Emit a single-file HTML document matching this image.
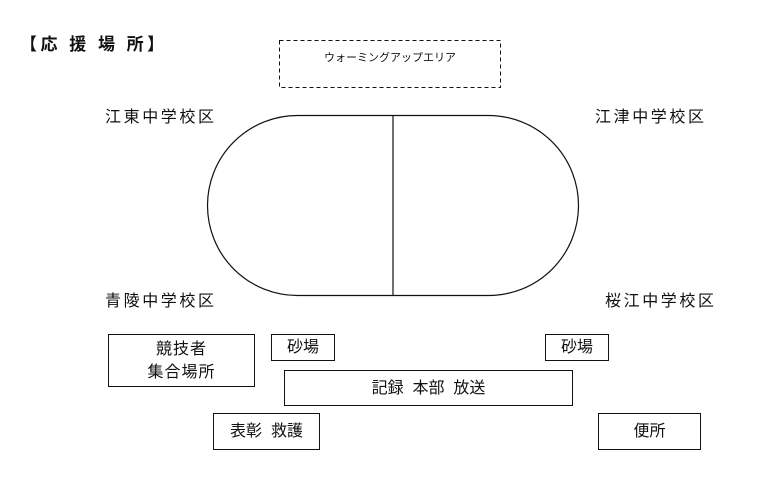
<!DOCTYPE html>
<html><head><meta charset="utf-8"><style>
body{margin:0;width:777px;height:482px;background:#fff;position:relative;overflow:hidden;font-family:"Liberation Sans","Noto Sans CJK JP",sans-serif;color:#111}
.a{position:absolute;white-space:nowrap}
.b{position:absolute;border:1px solid #111;box-sizing:border-box;display:flex;align-items:center;justify-content:center;text-align:center;font-size:16px;line-height:23px}
.lbl{font-size:16px;letter-spacing:2.6px;line-height:20px}
</style></head><body>
<div class="a" style="left:20px;top:30px;font-size:17px;font-weight:bold;letter-spacing:3.5px">【応 援 場 所】</div>
<svg class="a" style="left:0;top:0" width="777" height="482">
<rect x="279.5" y="40.5" width="221" height="47" fill="none" stroke="#111" stroke-width="1" stroke-dasharray="4,3"/>
<rect x="207.5" y="115.5" width="371" height="180" rx="90" ry="90" fill="none" stroke="#111" stroke-width="1.2"/>
<line x1="393" y1="115.5" x2="393" y2="295.5" stroke="#111" stroke-width="1.2"/>
</svg>
<div class="a" style="left:279px;top:40px;width:222px;font-size:11px;text-align:center;padding-top:9px">ウォーミングアップエリア</div>
<div class="a lbl" style="left:105px;top:108px">江東中学校区</div>
<div class="a lbl" style="left:595px;top:108px">江津中学校区</div>
<div class="a lbl" style="left:105px;top:292px">青陵中学校区</div>
<div class="a lbl" style="left:605px;top:292px">桜江中学校区</div>
<div class="b" style="left:108px;top:334px;width:147px;height:53px;letter-spacing:1px">競技者<br>集合場所</div>
<div class="b" style="left:271px;top:334px;width:64px;height:27px">砂場</div>
<div class="b" style="left:545px;top:334px;width:64px;height:27px">砂場</div>
<div class="b" style="left:284px;top:370px;width:289px;height:36px">記録&nbsp;&nbsp;本部&nbsp;&nbsp;放送</div>
<div class="b" style="left:213px;top:413px;width:107px;height:37px">表彰&nbsp;&nbsp;救護</div>
<div class="b" style="left:598px;top:413px;width:103px;height:37px">便所</div>
</body></html>
